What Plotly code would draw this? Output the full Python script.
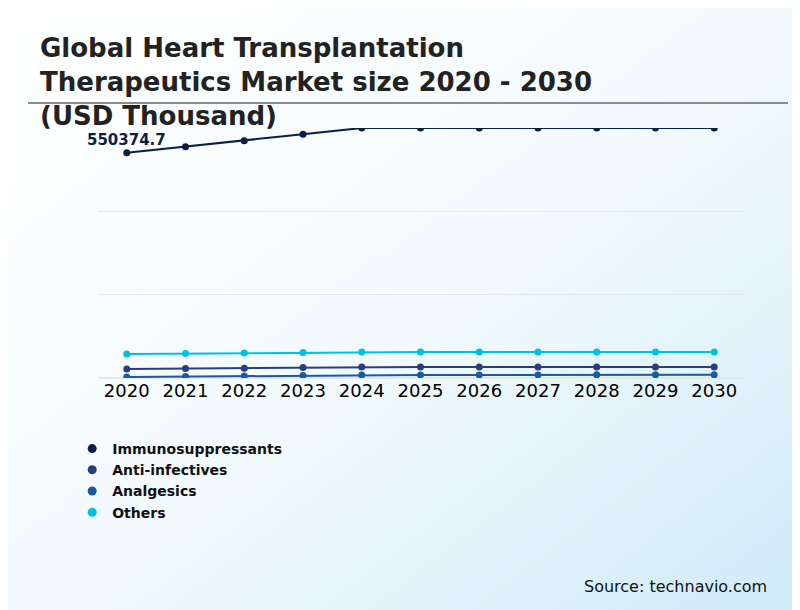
import plotly.graph_objects as go
import base64

years = list(range(2020, 2031))
immuno = [550374.7, 565000, 580000, 596000, 611000, 611000, 611000, 611000, 611000, 611000, 611000]
anti = [22000, 23000, 24000, 25500, 27000, 27000, 27000, 27000, 27000, 27000, 27000]
analg = [2400, 3500, 4700, 6000, 7300, 7400, 7500, 7600, 7700, 7800, 7900]
others = [58600, 59800, 61000, 62300, 63500, 63500, 63500, 63500, 63500, 63500, 63500]

series = [("Immunosuppressants", immuno, "#0b1f45"),
          ("Anti-infectives", anti, "#2a3f7a"),
          ("Analgesics", analg, "#1a5aa0"),
          ("Others", others, "#00c0e0")]

fig = go.Figure()
for name, vals, col in series:
    fig.add_trace(go.Scatter(x=years, y=vals, name=name, mode="lines+markers", showlegend=False,
                             line=dict(color=col, width=2), marker=dict(size=7, color=col)))
for name, vals, col in series:
    fig.add_trace(go.Scatter(x=[None], y=[None], name="<b>" + name + "</b>", mode="markers",
                             marker=dict(size=9, color=col)))

svg = ('<svg xmlns="http://www.w3.org/2000/svg" width="800" height="610"><defs>'
       '<linearGradient id="g" x1="0" y1="0" x2="1" y2="1">'
       '<stop offset="0" stop-color="#ffffff"/><stop offset="0.5" stop-color="#f3fafd"/>'
       '<stop offset="1" stop-color="#cdeaf7"/></linearGradient></defs>'
       '<rect width="800" height="610" fill="url(#g)"/></svg>')
uri = "data:image/svg+xml;base64," + base64.b64encode(svg.encode()).decode()

fig.update_layout(
    width=800, height=610, margin=dict(l=90, r=65, t=120, b=240),
    paper_bgcolor="rgba(0,0,0,0)", plot_bgcolor="rgba(0,0,0,0)",
    font=dict(family="DejaVu Sans", color="#000"),
    images=[dict(source=uri, xref="paper", yref="paper", x=-100/645, y=1+130/250,
                 sizex=820/645, sizey=630/250, sizing="stretch", layer="below",
                 xanchor="left", yanchor="top")],
    showlegend=True,
    legend=dict(x=-0.04, xanchor="left", y=-0.22, yanchor="top", orientation="v",
                font=dict(size=14, color="#111"), itemwidth=30,
                tracegroupgap=2, bgcolor="rgba(0,0,0,0)"),
    xaxis=dict(range=[2019.51, 2030.49], dtick=1, showgrid=False, tickfont=dict(size=18),
               ticks="", showline=False, zeroline=False),
    yaxis=dict(range=[0, 611000], dtick=203666, showticklabels=False, gridcolor="#e3e8ec",
               zeroline=True, zerolinecolor="#e3e8ec"),
    shapes=[dict(type="line", xref="paper", yref="paper", x0=-70/645, x1=690/645,
                 y0=1+25/250, y1=1+25/250, line=dict(color="#666", width=1.5))],
    annotations=[
        dict(xref="paper", yref="paper", x=-60/645, y=1+97/250, xanchor="left", yanchor="top",
             align="left", showarrow=False,
             text="<b>Global Heart Transplantation<br>Therapeutics Market size 2020 - 2030<br>(USD Thousand)</b>",
             font=dict(size=26, color="#222")),
        dict(x=2020, y=550374.7, text="<b>550374.7</b>", showarrow=False, xanchor="left",
             yanchor="bottom", xshift=-42, yshift=2, font=dict(size=15, color="#0b1f45")),
        dict(xref="paper", yref="paper", x=1.04, y=-0.88, text="Source: technavio.com",
             showarrow=False, xanchor="right", font=dict(size=16, color="#111")),
    ],
)
fig.write_html("out.html")
